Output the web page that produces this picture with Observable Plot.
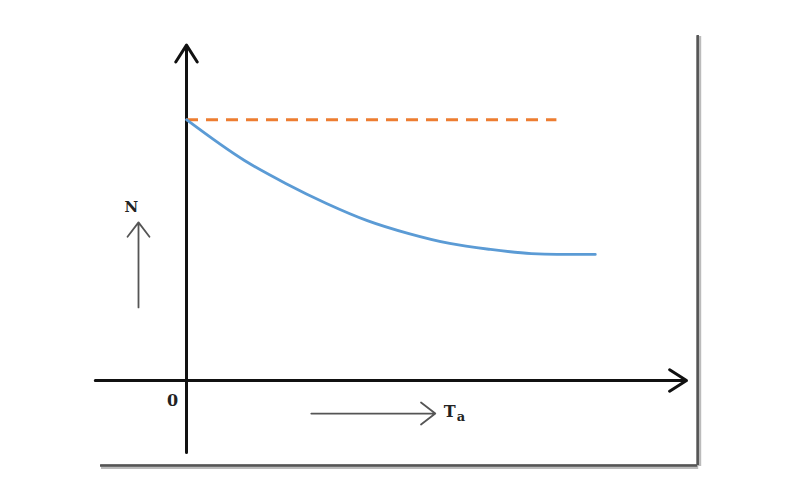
<!DOCTYPE html>
<html>
<head>
<meta charset="utf-8">
<script src="https://cdn.jsdelivr.net/npm/d3@7"></script>
<script src="https://cdn.jsdelivr.net/npm/@observablehq/plot@0.6"></script>
<style>
  html, body { margin: 0; padding: 0; background: #fff; }
  #chart svg { display: block; }
</style>
</head>
<body>
<div id="chart"></div>
<script>
// Curve N vs Ta (schematic units)
const ta = [0, 0.725, 1.24, 1.75, 2.26, 2.78, 3.29, 3.8, 4.31, 4.63, 5.11];
const nValues = [10.03, 8.46, 7.58, 6.81, 6.15, 5.65, 5.27, 5.04, 4.88, 4.85, 4.85];
// Constant reference level (dashed)
const refLevel = 10.03;
const refStart = 0;
const refEnd = 4.63;
// Axis extents
const xAxisExtent = [-1.14, 6.25];
const yAxisExtent = [-2.77, 12.9];
// Frame (right and bottom edges)
const frameX = [-1.075, 6.39];
const frameY = [-3.27, 13.27];
// Direction arrows
const nArrow = {x: -0.6, y1: 2.81, y2: 6.08};
const taArrow = {x1: 1.56, x2: 3.11, y: -1.27};
// Labels
const labels = [
  {x: -0.69, y: 6.68, text: "N", size: 15},
  {x: -0.175, y: -0.77, text: "0", size: 16},
  {x: 3.29, y: -1.2, text: "T", size: 16},
];
const subLabels = [{x: 3.43, y: -1.4, text: "a", size: 13}];

const curve = ta.map((t, i) => ({ta: t, n: nValues[i]}));

const chart = Plot.plot({
  width: 800,
  height: 500,
  margin: 0,
  x: {domain: [-2.325, 7.675], axis: null},
  y: {domain: [-4.615, 14.615], axis: null},
  marks: [
    // frame with soft shadow
    Plot.ruleX([frameX[1]], {y1: frameY[0], y2: frameY[1], stroke: "#bbb", strokeWidth: 5, dx: 1, dy: 1}),
    Plot.ruleY([frameY[0]], {x1: frameX[0], x2: frameX[1], stroke: "#bbb", strokeWidth: 5, dx: 1, dy: 1}),
    Plot.ruleX([frameX[1]], {y1: frameY[0], y2: frameY[1], stroke: "#555", strokeWidth: 2.5}),
    Plot.ruleY([frameY[0]], {x1: frameX[0], x2: frameX[1], stroke: "#555", strokeWidth: 2.5}),
    // axes
    Plot.arrow([{x1: 0, y1: yAxisExtent[0], x2: 0, y2: yAxisExtent[1]}], {x1: "x1", y1: "y1", x2: "x2", y2: "y2", stroke: "#111", strokeWidth: 3, headLength: 10, headAngle: 65}),
    Plot.arrow([{x1: xAxisExtent[0], y1: 0, x2: xAxisExtent[1], y2: 0}], {x1: "x1", y1: "y1", x2: "x2", y2: "y2", stroke: "#111", strokeWidth: 3, headLength: 10, headAngle: 65}),
    // reference dashed line
    Plot.ruleY([refLevel], {x1: refStart, x2: refEnd, stroke: "#ed7d31", strokeWidth: 3, strokeDasharray: "12,8"}),
    // curve
    Plot.line(curve, {x: "ta", y: "n", stroke: "#5b9bd5", strokeWidth: 2.8, curve: "monotone-x"}),
    // direction arrows
    Plot.arrow([nArrow], {x: "x", y1: "y1", y2: "y2", stroke: "#555", strokeWidth: 1.8, headLength: 15, headAngle: 75}),
    Plot.arrow([taArrow], {x1: "x1", x2: "x2", y: "y", stroke: "#555", strokeWidth: 1.8, headLength: 15, headAngle: 75}),
    // labels
    Plot.text(labels, {x: "x", y: "y", text: "text", fontSize: d => d.size, fontFamily: "DejaVu Serif", fontWeight: "bold", fill: "#222"}),
    Plot.text(subLabels, {x: "x", y: "y", text: "text", fontSize: d => d.size, fontFamily: "DejaVu Serif", fontWeight: "bold", fill: "#222"})
  ]
});
document.getElementById("chart").appendChild(chart);
</script>
</body>
</html>
